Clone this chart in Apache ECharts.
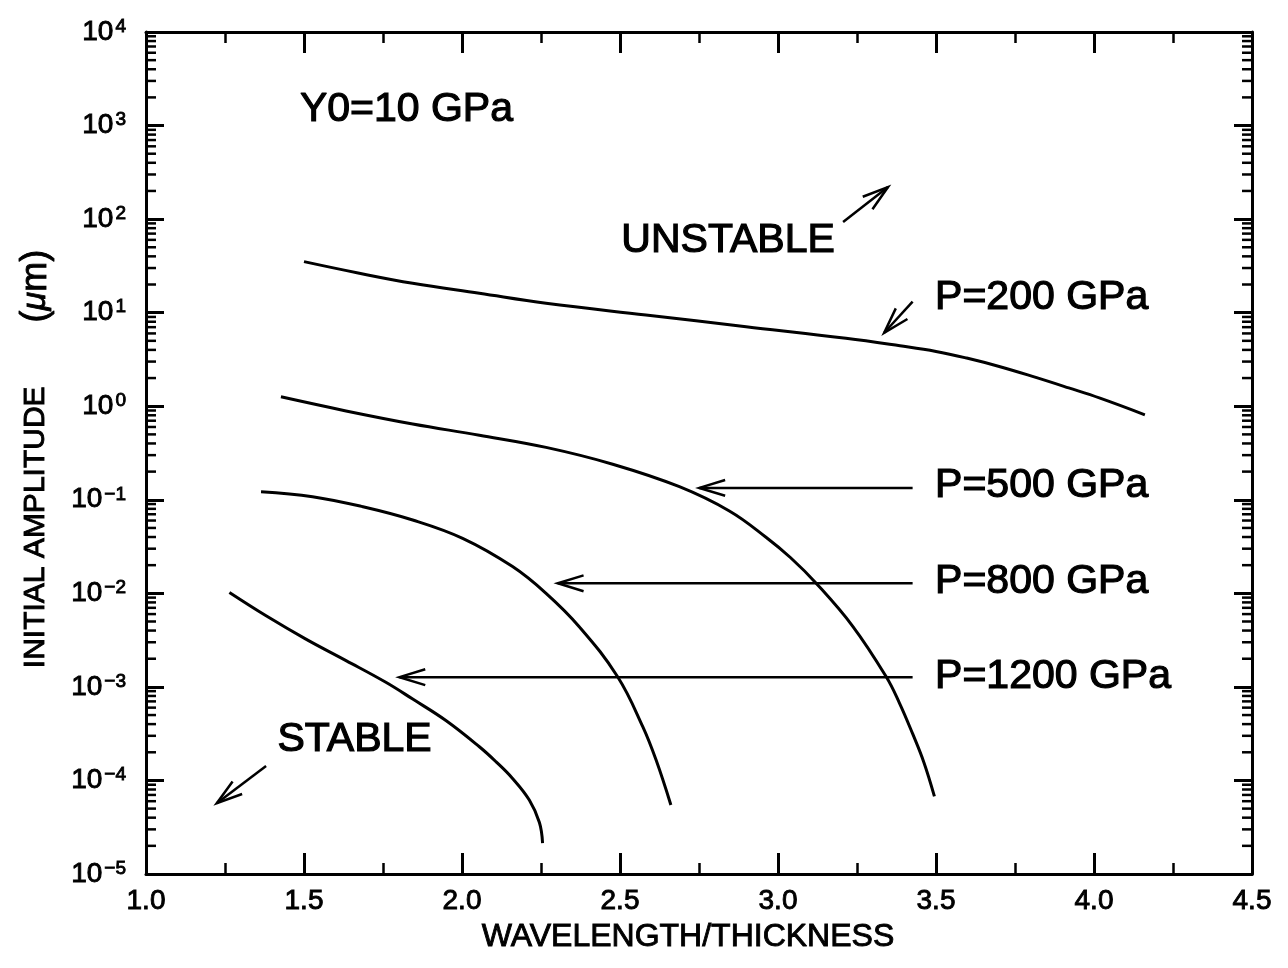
<!DOCTYPE html>
<html>
<head>
<meta charset="utf-8">
<script src="https://cdn.jsdelivr.net/npm/echarts@6/dist/echarts.min.js"></script>
<style>
  html, body { margin: 0; padding: 0; background: #fff; }
  #chart { width: 1288px; height: 968px; }
</style>
</head>
<body>
<div id="chart"></div>
<script>
const FONT = '"Liberation Sans", Arial, Helvetica, sans-serif';

// Critical initial amplitude (µm) versus wavelength/thickness, one curve per pressure
const ratio200 = [1.50, 1.675, 1.844, 2.055, 2.266, 2.582, 2.899, 3.215, 3.386, 3.50, 3.597, 3.70, 3.808, 3.92, 4.019, 4.161];
const amp200   = [35.1, 26.4, 20.6, 16.1, 12.6, 9.44, 7.08, 5.32, 4.42, 3.85, 3.27, 2.66, 2.07, 1.57, 1.22, 0.81];

const ratio500 = [1.427, 1.633, 1.844, 2.055, 2.266, 2.477, 2.688, 2.846, 2.962, 3.040, 3.120, 3.236, 3.342, 3.384, 3.426, 3.462, 3.495];
const amp500   = [1.26, 0.891, 0.646, 0.490, 0.363, 0.240, 0.138, 0.0759, 0.0398, 0.0240, 0.0129, 0.00447, 0.00129, 0.000676, 0.000316, 0.000155, 0.0000676];

const ratio800 = [1.364, 1.527, 1.686, 1.844, 2.002, 2.160, 2.266, 2.371, 2.492, 2.572, 2.614, 2.661];
const amp800   = [0.122, 0.108, 0.0843, 0.0608, 0.0387, 0.0193, 0.0100, 0.0044, 0.00129, 0.000376, 0.000166, 0.0000547];

const ratio1200 = [1.264, 1.380, 1.506, 1.633, 1.759, 1.844, 1.949, 2.055, 2.108, 2.160, 2.213, 2.245, 2.255];
const amp1200   = [0.0102, 0.00575, 0.00324, 0.00191, 0.00112, 0.000741, 0.000437, 0.000229, 0.000158, 0.000105, 0.0000617, 0.0000355, 0.0000214];

const curveX = [ratio200, ratio500, ratio800, ratio1200];
const curveY = [amp200, amp500, amp800, amp1200];

// Axis ranges and tick labels
const X_MIN = 1.0, X_MAX = 4.5, X_STEP = 0.5;
const Y_MIN = 1e-5, Y_MAX = 1e4;
const xTickLabels = ['1.0', '1.5', '2.0', '2.5', '3.0', '3.5', '4.0', '4.5'];
const yExponents = [-5, -4, -3, -2, -1, 0, 1, 2, 3, 4];

// Annotation texts, anchored in data coordinates
const noteTexts = ['Y0=10 GPa', 'UNSTABLE', 'P=200 GPa', 'P=500 GPa', 'P=800 GPa', 'P=1200 GPa', 'STABLE'];
const noteX = [1.487, 2.842, 3.497, 3.497, 3.497, 3.497, 1.660];
const noteY = [1470, 58.3, 14.5, 0.141, 0.0132, 0.00128, 0.000271];
const noteAlign = ['left', 'center', 'left', 'left', 'left', 'left', 'center'];

// Arrows: tail (x0, y0) to head (x1, y1)
const arrowX0 = [3.206, 3.426, 3.426, 3.426, 3.426, 1.380];
const arrowY0 = [93, 13.1, 0.134, 0.0128, 0.00127, 0.000143];
const arrowX1 = [3.348, 3.336, 2.751, 2.303, 1.802, 1.224];
const arrowY1 = [220, 6.1, 0.134, 0.0128, 0.00127, 0.000057];

// Logarithmic minor tick positions (2..9 within each decade)
const minorY = [];
for (let e = -5; e < 4; e++) {
  for (let m = 2; m <= 9; m++) minorY.push(m * Math.pow(10, e));
}

const BLACK = '#000';
const chart = echarts.init(document.getElementById('chart'), null, { renderer: 'canvas' });

function yLabel(v) {
  const e = Math.round(Math.log10(v));
  if (yExponents.indexOf(e) < 0) return '';
  const s = e < 0 ? '\u2212' + (-e) : String(e);
  return '{a|10}{b|' + s + '}';
}

const heavy = { textBorderColor: BLACK, textBorderWidth: 0.9 };

const yLabelRich = {
  a: Object.assign({ fontFamily: FONT, fontSize: 28, color: BLACK, lineHeight: 30 }, heavy),
  b: Object.assign({ fontFamily: FONT, fontSize: 19, color: BLACK, lineHeight: 14, verticalAlign: 'top', padding: [0, 0, 0, 2] }, heavy)
};

function xAxisCfg(pos, showLabels) {
  return {
    type: 'value', position: pos, min: X_MIN, max: X_MAX, interval: X_STEP,
    axisLine: { show: true, onZero: false, lineStyle: { color: BLACK, width: 3 } },
    axisTick: { show: true, inside: true, length: 21, lineStyle: { color: BLACK, width: 3 } },
    minorTick: { show: true, splitNumber: 2, length: 11, lineStyle: { color: BLACK, width: 2.5 } },
    splitLine: { show: false },
    axisLabel: Object.assign({
      show: showLabels, margin: 13, fontFamily: FONT, fontSize: 28, color: BLACK,
      formatter: v => xTickLabels[Math.round((v - X_MIN) / X_STEP)]
    }, heavy)
  };
}

function yAxisCfg(pos, showLabels) {
  return {
    type: 'log', logBase: 10, position: pos, min: Y_MIN, max: Y_MAX, splitNumber: 9,
    axisLine: { show: true, onZero: false, lineStyle: { color: BLACK, width: 3 } },
    axisTick: { show: true, inside: true, length: 18, lineStyle: { color: BLACK, width: 3 } },
    splitLine: { show: false },
    axisLabel: { show: showLabels, margin: 20, formatter: yLabel, rich: yLabelRich }
  };
}

const xBottom = xAxisCfg('bottom', true);
xBottom.name = 'WAVELENGTH/THICKNESS';
xBottom.nameLocation = 'middle';
xBottom.nameGap = 47;
xBottom.nameTextStyle = Object.assign({ fontFamily: FONT, fontSize: 32, color: BLACK, padding: [0, 22, 0, 0] }, heavy);

const yLeft = yAxisCfg('left', true);
yLeft.name = '{t|INITIAL AMPLITUDE}{p|(}{i|\u03bc}{m|m)}';
yLeft.nameLocation = 'middle';
yLeft.nameRotate = 90;
yLeft.nameGap = 92;
yLeft.nameTextStyle = {
  padding: [0, 12, 0, 0],
  rich: {
    t: Object.assign({ fontFamily: FONT, fontSize: 30, color: BLACK }, heavy),
    p: Object.assign({ fontFamily: FONT, fontSize: 36, color: BLACK, padding: [0, 0, 0, 64] }, heavy),
    i: Object.assign({ fontFamily: FONT, fontSize: 34, color: BLACK, fontStyle: 'italic' }, heavy),
    m: Object.assign({ fontFamily: FONT, fontSize: 36, color: BLACK }, heavy)
  }
};

const lineSeries = curveX.map((xs, k) => ({
  type: 'line',
  xAxisIndex: 0, yAxisIndex: 0,
  data: xs.map((x, i) => [x, curveY[k][i]]),
  symbol: 'none',
  smooth: 0.4,
  lineStyle: { color: BLACK, width: 3 },
  silent: true, z: 3
}));

const minorTickSeries = {
  type: 'custom',
  xAxisIndex: 0, yAxisIndex: 0,
  data: minorY.map(v => [X_MIN, v]),
  encode: { x: 0, y: 1 },
  silent: true, clip: false, z: 4,
  renderItem(params, api) {
    const v = api.value(1);
    const l = api.coord([X_MIN, v]);
    const r = api.coord([X_MAX, v]);
    const st = { stroke: BLACK, lineWidth: 2.5 };
    return {
      type: 'group',
      children: [
        { type: 'line', shape: { x1: l[0], y1: l[1], x2: l[0] + 10, y2: l[1] }, style: st },
        { type: 'line', shape: { x1: r[0], y1: r[1], x2: r[0] - 10, y2: r[1] }, style: st }
      ]
    };
  }
};

const HEAD = 27, HALF = 17 * Math.PI / 180;
const arrowSeries = {
  type: 'custom',
  xAxisIndex: 0, yAxisIndex: 0,
  data: arrowX0.map((x, i) => [x, arrowY0[i], arrowX1[i], arrowY1[i]]),
  encode: { x: [0, 2], y: [1, 3] },
  silent: true, z: 5,
  renderItem(params, api) {
    const a = api.coord([api.value(0), api.value(1)]);
    const b = api.coord([api.value(2), api.value(3)]);
    const ang = Math.atan2(a[1] - b[1], a[0] - b[0]);
    const h1 = [b[0] + HEAD * Math.cos(ang + HALF), b[1] + HEAD * Math.sin(ang + HALF)];
    const h2 = [b[0] + HEAD * Math.cos(ang - HALF), b[1] + HEAD * Math.sin(ang - HALF)];
    return {
      type: 'group',
      children: [
        { type: 'line', shape: { x1: a[0], y1: a[1], x2: b[0], y2: b[1] }, style: { stroke: BLACK, lineWidth: 2.5 } },
        { type: 'polyline', shape: { points: [h1, b, h2] }, style: { stroke: BLACK, lineWidth: 2.5, fill: null } }
      ]
    };
  }
};

const noteSeries = {
  type: 'custom',
  xAxisIndex: 0, yAxisIndex: 0,
  data: noteX.map((x, i) => [x, noteY[i]]),
  encode: { x: 0, y: 1 },
  silent: true, z: 6,
  renderItem(params, api) {
    const p = api.coord([api.value(0), api.value(1)]);
    return {
      type: 'text', x: p[0], y: p[1],
      style: {
        text: noteTexts[params.dataIndex],
        font: '41px ' + FONT,
        fill: BLACK,
        stroke: BLACK,
        lineWidth: 1.2,
        align: noteAlign[params.dataIndex],
        verticalAlign: 'middle'
      }
    };
  }
};

chart.setOption({
  animation: false,
  backgroundColor: '#fff',
  grid: { left: 146, right: 36, top: 32, bottom: 94, containLabel: false, outerBoundsMode: 'none' },
  xAxis: [xBottom, xAxisCfg('top', false)],
  yAxis: [yLeft, yAxisCfg('right', false)],
  series: [...lineSeries, minorTickSeries, arrowSeries, noteSeries]
});
</script>
</body>
</html>
